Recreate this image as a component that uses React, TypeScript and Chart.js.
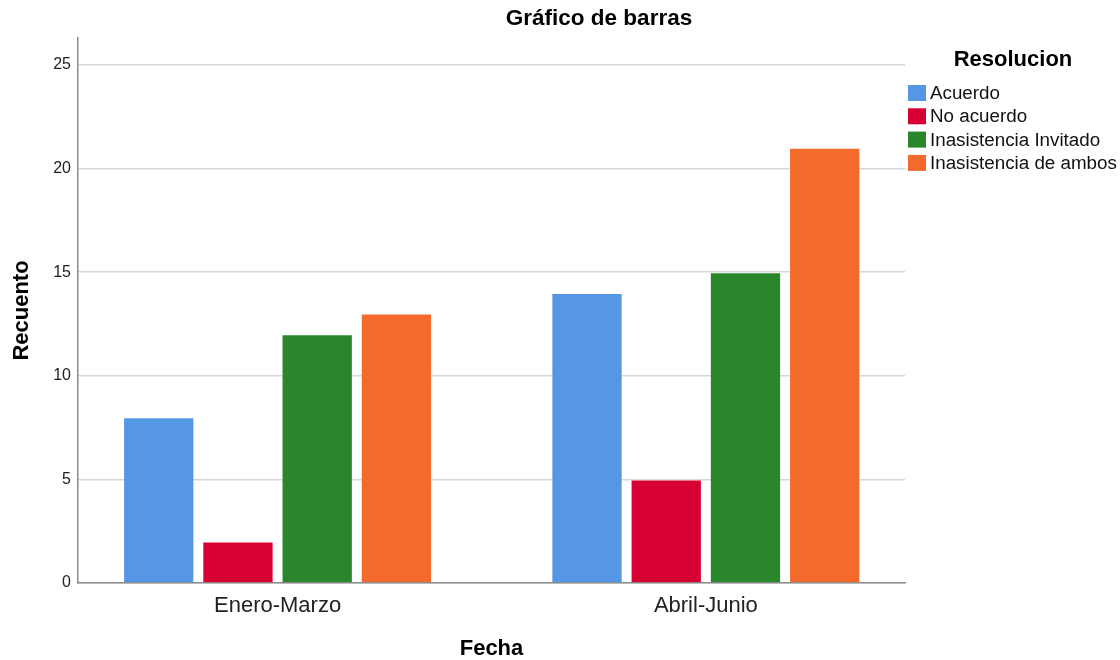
import React, { useEffect, useRef } from "react";
import { Chart, registerables } from "chart.js";

Chart.register(...registerables);

const categories = ["Enero-Marzo", "Abril-Junio"];
const seriesNames = ["Acuerdo", "No acuerdo", "Inasistencia Invitado", "Inasistencia de ambos"];
const acuerdo = [8, 14];
const noAcuerdo = [2, 5];
const inasistenciaInvitado = [12, 15];
const inasistenciaAmbos = [13, 21];
const yTicks = [0, 5, 10, 15, 20, 25];
const colors = ["#5597E5", "#D70033", "#2A862A", "#F46A2C"];

const chartTitle = "Gráfico de barras";
const xTitle = "Fecha";
const yTitle = "Recuento";
const legendTitle = "Resolucion";

const FONT = "'Liberation Sans', Arial, sans-serif";

export default function App() {
  const ref = useRef<HTMLCanvasElement | null>(null);

  useEffect(() => {
    document.body.style.margin = "0";
    const canvas = ref.current;
    if (!canvas) return;
    const values = [acuerdo, noAcuerdo, inasistenciaInvitado, inasistenciaAmbos];

    const textPlugin = {
      id: "texts",
      afterDraw(chart: any) {
        const ctx = chart.ctx as CanvasRenderingContext2D;
        const area = chart.chartArea;
        ctx.save();
        ctx.fillStyle = "#000";
        ctx.textBaseline = "middle";
        // main title
        ctx.font = `bold 22.5px ${FONT}`;
        ctx.textAlign = "center";
        ctx.fillText(chartTitle, 599, 19);
        // x title
        ctx.font = `bold 22px ${FONT}`;
        ctx.fillText(xTitle, (area.left + area.right) / 2, 649);
        // y title
        ctx.save();
        ctx.translate(22, (area.top + area.bottom) / 2);
        ctx.rotate(-Math.PI / 2);
        ctx.fillText(yTitle, 0, 0);
        ctx.restore();
        // legend
        ctx.font = `bold 22px ${FONT}`;
        ctx.fillText(legendTitle, 1013, 60);
        ctx.textAlign = "left";
        ctx.font = `18.8px ${FONT}`;
        seriesNames.forEach((name, i) => {
          const cy = 93 + i * 23.3;
          ctx.fillStyle = colors[i];
          ctx.fillRect(908, cy - 8, 18, 16);
          ctx.fillStyle = "#111";
          ctx.fillText(name, 930, cy + 1);
        });
        ctx.restore();
      },
    };

    const chart = new Chart(canvas, {
      type: "bar",
      data: {
        datasets: seriesNames.map((name, i) => ({
          label: name,
          data: values[i].map((v, j) => ({ x: j, y: v })),
          backgroundColor: colors[i],
          borderColor: "rgba(255,255,255,0.35)",
          borderWidth: 1,
          categoryPercentage: 0.74,
          barPercentage: 0.9,
        })),
      },
      options: {
        responsive: false,
        animation: false,
        layout: { padding: { left: 0, top: 38, right: 215, bottom: 0 } },
        plugins: { legend: { display: false }, title: { display: false }, tooltip: { enabled: false } },
        scales: {
          x: {
            type: "linear",
            offset: false,
            min: -0.466,
            max: 1.465,
            afterBuildTicks: (s: any) => {
              s.ticks = categories.map((_, i) => ({ value: i }));
            },
            afterFit: (s: any) => {
              s.height = 77;
            },
            grid: { display: false, drawTicks: false, offset: false },
            border: { display: true, color: "#8c8c8c", width: 1.5 },
            ticks: {
              padding: 10,
              color: "#222",
              font: { family: FONT, size: 22 },
              callback: (v: any) => categories[v as number] ?? "",
              maxRotation: 0,
              autoSkip: false,
            },
          },
          y: {
            min: 0,
            max: 26.3,
            afterBuildTicks: (s: any) => {
              s.ticks = yTicks.map((v) => ({ value: v }));
            },
            afterFit: (s: any) => {
              s.width = 78;
            },
            grid: { color: "#d6d6d6", lineWidth: 1.5, drawTicks: false },
            border: { display: true, color: "#8c8c8c", width: 1.5 },
            ticks: {
              padding: 7,
              color: "#222",
              font: { family: FONT, size: 16 },
            },
          },
        },
      },
      plugins: [textPlugin],
    } as any);

    return () => chart.destroy();
  }, []);

  return <canvas ref={ref} width={1120} height={660} style={{ display: "block" }} />;
}
